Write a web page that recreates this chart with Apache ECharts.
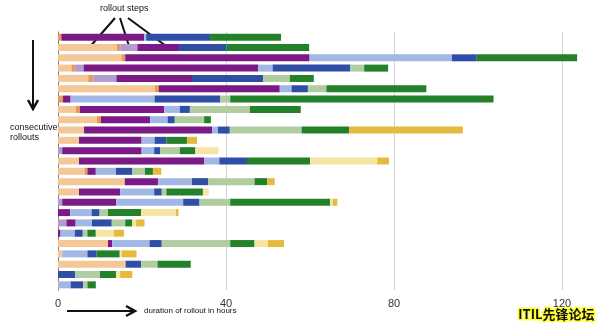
<!DOCTYPE html>
<html>
<head>
<meta charset="utf-8">
<script src="https://cdn.jsdelivr.net/npm/echarts@6/dist/echarts.min.js"></script>
<style>
html,body{margin:0;padding:0;background:#fff;}
#c{width:599px;height:328px;}
</style>
</head>
<body>
<div id="c"></div>
<script>
// rollouts (top to bottom)
const rollouts = ['1','2','3','4','5','6','7','8','9','10','11','12','13','14','15','16','17','18','19','20','21','22','23','24','25'];
const xTicks = [0, 40, 80, 120];
// durations (hours) of each rollout step, per rollout
const stepPeach    = [0, 14.0, 15.1, 3.2, 7.2, 23.1, 0, 4.2, 9.2, 6.2, 5.0, 0, 5.0, 6.3, 15.9, 5.0, 0, 0, 0, 0, 11.9, 1.0, 16.1, 0, 0];
const stepOrange   = [0.8, 0.8, 0.9, 0.9, 1.2, 0.9, 1.2, 1.0, 1.0, 0, 0, 0, 0, 0.7, 0, 0, 0, 0, 0, 0, 0, 0, 0, 0, 0];
const stepLavender = [0, 4.1, 0, 2.0, 5.5, 0, 0, 0, 0, 0, 0, 1.0, 0, 0, 0, 0, 1.0, 0, 2.0, 0, 0, 0, 0, 0, 0];
const stepPurple   = [19.7, 9.9, 43.9, 41.6, 18.0, 28.8, 1.8, 20.1, 11.7, 30.5, 14.9, 18.9, 29.8, 2.0, 7.9, 9.8, 12.9, 2.9, 2.2, 0.6, 1.0, 0, 0, 0, 0];
const stepLtBlue   = [0.5, 0, 33.9, 3.4, 0, 2.8, 20.0, 3.7, 4.2, 1.4, 3.1, 3.0, 3.6, 4.8, 8.1, 8.1, 15.9, 5.1, 3.9, 3.4, 8.9, 6.0, 0, 0, 3.0];
const stepDkBlue   = [15.2, 11.3, 5.9, 18.5, 16.9, 3.9, 15.6, 2.4, 1.7, 2.8, 2.8, 1.4, 6.6, 3.9, 3.9, 1.8, 3.9, 1.9, 4.7, 1.9, 2.9, 2.2, 3.7, 4.1, 3.0];
const stepSage     = [0, 0, 0, 3.3, 6.4, 4.4, 2.4, 14.3, 7.0, 17.1, 0, 4.7, 0, 3.0, 11.0, 1.1, 7.3, 2.0, 3.2, 1.1, 16.3, 0, 3.9, 5.9, 1.0];
const stepGreen    = [16.9, 19.7, 23.9, 5.7, 5.7, 23.8, 62.7, 12.1, 1.6, 11.3, 4.9, 3.7, 15.0, 1.9, 3.0, 8.7, 23.8, 7.9, 1.7, 2.0, 5.8, 5.5, 7.9, 3.8, 2.0];
const stepLtYellow = [0, 0, 0, 0, 0, 0, 0, 0, 0, 0, 0, 5.5, 16.0, 0, 0, 1.4, 0.6, 8.3, 0.9, 4.3, 3.2, 0.5, 0, 1.0, 0];
const stepGold     = [0, 0, 0, 0, 0, 0, 0, 0, 0, 27.1, 2.4, 0, 2.8, 2.0, 1.8, 0, 1.1, 0.6, 2.0, 2.4, 3.8, 3.5, 0, 2.9, 0];

const steps = [
  ['peach', stepPeach, '#f4c797'],
  ['orange', stepOrange, '#e59a5a'],
  ['lavender', stepLavender, '#b29bd0'],
  ['purple', stepPurple, '#7b1a86'],
  ['ltblue', stepLtBlue, '#a3b7e5'],
  ['dkblue', stepDkBlue, '#2f4ea5'],
  ['sage', stepSage, '#b1cca1'],
  ['green', stepGreen, '#23812a'],
  ['ltyellow', stepLtYellow, '#f6e4a2'],
  ['gold', stepGold, '#e5bb3f']
];

const chart = echarts.init(document.getElementById('c'), null, {renderer: 'canvas'});
const series = steps.map(s => ({
  name: s[0], type: 'bar', stack: 'r', data: s[1], barWidth: 7,
  itemStyle: {color: s[2]}, emphasis: {disabled: true}, silent: true
}));

const ff = '"Liberation Sans", Arial, sans-serif';
chart.setOption({
  animation: false,
  backgroundColor: '#fff',
  grid: {left: 58, right: 16, top: 32, bottom: 38, containLabel: false},
  xAxis: {
    type: 'value', min: 0, max: 125, interval: 40,
    axisLine: {show: false}, axisTick: {show: false},
    axisLabel: {
      showMaxLabel: false, color: '#333', fontSize: 11, fontFamily: ff, margin: 8,
      formatter: v => xTicks.indexOf(v) >= 0 ? String(v) : ''
    },
    splitLine: {show: true, showMinLine: false, showMaxLine: false, lineStyle: {color: '#d2d2d2', width: 1}}
  },
  yAxis: {
    type: 'category', data: rollouts, inverse: true,
    axisLine: {show: true, lineStyle: {color: '#8a7a6a', width: 1}},
    axisTick: {show: false}, axisLabel: {show: false}, splitLine: {show: false}
  },
  series: series,
  graphic: [
    {type: 'text', left: 100, top: 4, style: {text: 'rollout steps', font: '9px ' + ff, fill: '#111'}},
    {type: 'line', shape: {x1: 115, y1: 18, x2: 88, y2: 49}, style: {stroke: '#111', lineWidth: 2}},
    {type: 'line', shape: {x1: 120, y1: 18, x2: 130, y2: 49}, style: {stroke: '#111', lineWidth: 2}},
    {type: 'line', shape: {x1: 128, y1: 18, x2: 166, y2: 46}, style: {stroke: '#111', lineWidth: 2}},
    {type: 'line', shape: {x1: 33, y1: 40, x2: 33, y2: 108}, style: {stroke: '#111', lineWidth: 2}},
    {type: 'polyline', shape: {points: [[28, 100], [33, 109], [38, 100]]}, style: {stroke: '#111', lineWidth: 2.5, fill: null}},
    {type: 'text', left: 10, top: 123, style: {text: 'consecutive\nrollouts', font: '9px ' + ff, fill: '#111', lineHeight: 10}},
    {type: 'line', shape: {x1: 67, y1: 311, x2: 134, y2: 311}, style: {stroke: '#111', lineWidth: 2}},
    {type: 'polyline', shape: {points: [[126, 306], [135, 311], [126, 316]]}, style: {stroke: '#111', lineWidth: 2.5, fill: null}},
    {type: 'text', left: 144, top: 307, style: {text: 'duration of rollout in hours', font: '8px ' + ff, fill: '#111'}},
    {type: 'text', right: 3, top: 306, style: {text: 'ITIL先锋论坛', font: 'bold 13px "Noto Sans CJK SC", sans-serif', fill: '#111', stroke: '#ffff33', lineWidth: 3}}
  ]
});
</script>
</body>
</html>
